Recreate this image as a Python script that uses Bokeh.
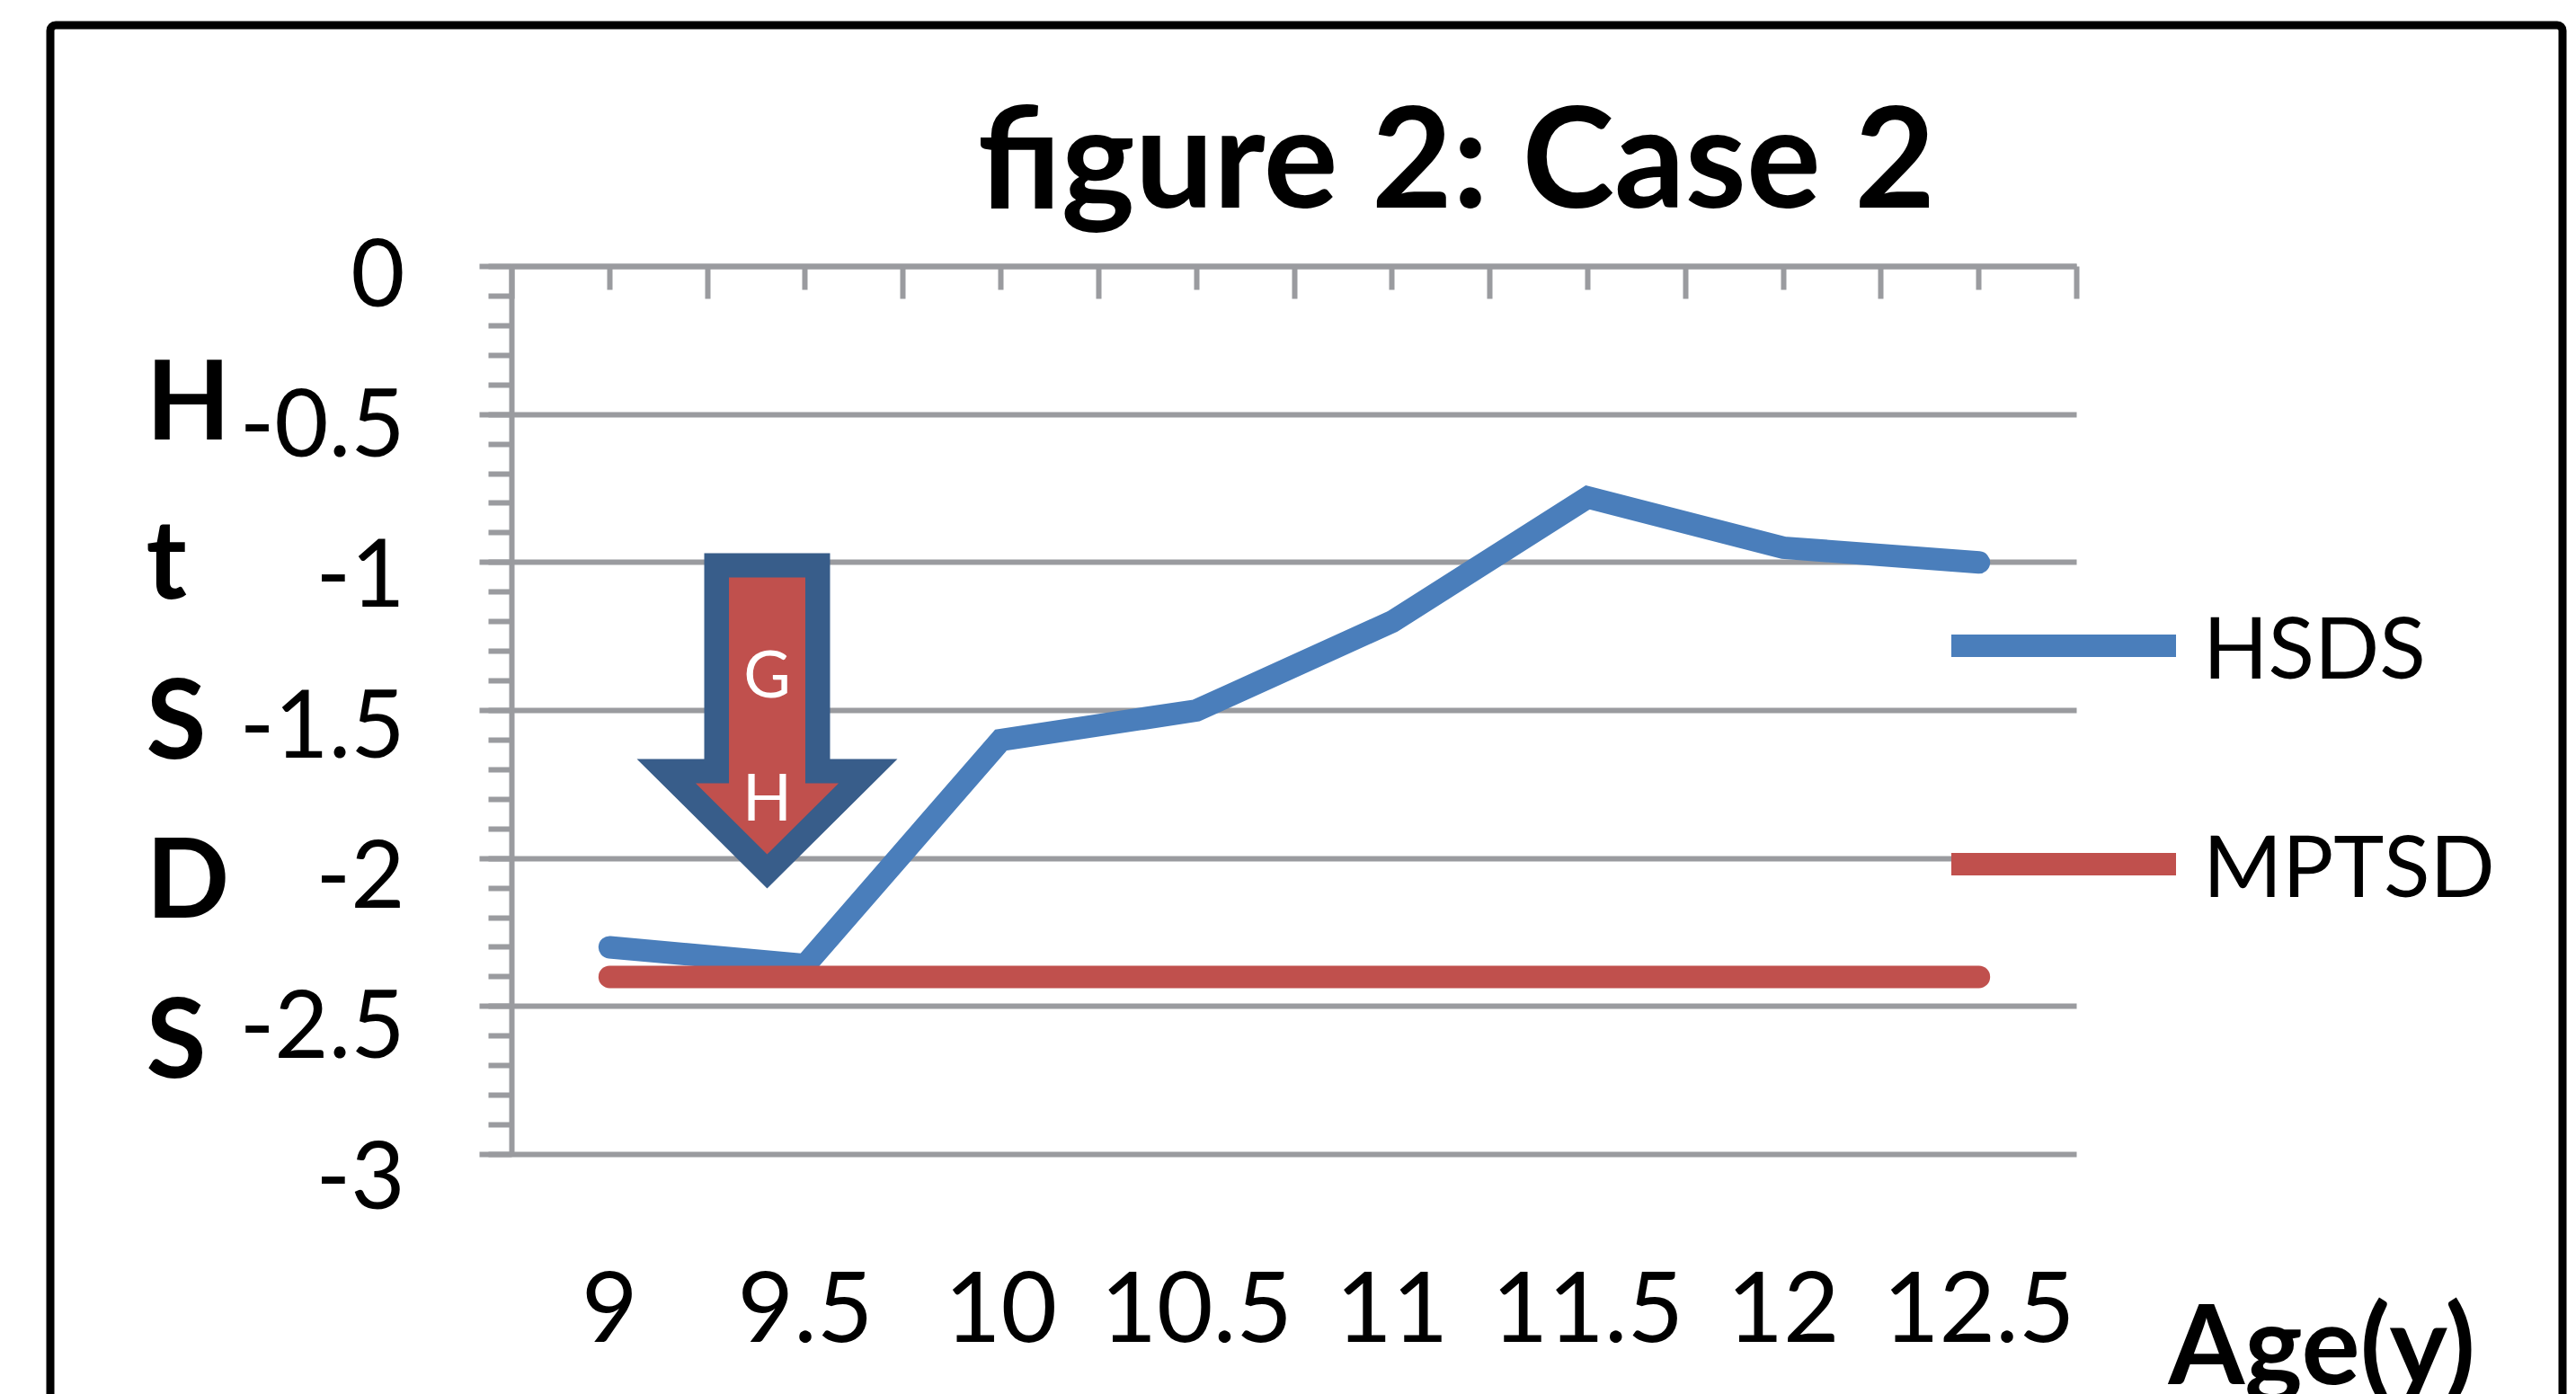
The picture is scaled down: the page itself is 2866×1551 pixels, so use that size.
from bokeh.plotting import figure
from bokeh.models import (Range1d, LinearAxis, FixedTicker, SingleIntervalTicker, Grid,
                          CustomJSTickFormatter, Legend, LegendItem, Label, BoxAnnotation)
from bokeh.embed import file_html
from bokeh.resources import INLINE

# ---------------- data ----------------
ages = [9, 9.5, 10, 10.5, 11, 11.5, 12, 12.5]
age_labels = ["9", "9.5", "10", "10.5", "11", "11.5", "12", "12.5"]
hsds = [-2.3, -2.36, -1.6, -1.5, -1.2, -0.78, -0.95, -1.0]
mptsd = [-2.4, -2.4, -2.4, -2.4, -2.4, -2.4, -2.4, -2.4]
y_ticks = [0, -0.5, -1, -1.5, -2, -2.5, -3]
y_tick_labels = ["0", "-0.5", "-1", "-1.5", "-2", "-2.5", "-3"]
series_names = ["HSDS", "MPTSD"]
title_text = "figure 2: Case 2"
y_title = "HtSDS"
x_title = "Age(y)"

# ---------------- style / layout ----------------
BLUE = "#4a7ebb"
RED = "#c0504d"
GRAY = "#9a9b9f"
ARROW_EDGE = "#385d8a"
FONT = "Lato"

# canvas placement in the window (px)
CX0, CY0 = 0, 0
W, H = 2866, 1551
# plot area in window px
PL, PR, PT, PB = 569, 2310, 296, 1284
# y tick labels sit slightly lower / more spread than the ticks
LBL_TOP, LBL_K = 302, 334.7

half = (ages[1] - ages[0]) / 2
x_lo, x_hi = ages[0] - half, ages[-1] + half
y_lo, y_hi = min(y_ticks), max(y_ticks)
kx = (PR - PL) / (x_hi - x_lo)
ky = (PB - PT) / (y_hi - y_lo)
x_range = Range1d(x_lo - (PL - CX0) / kx, x_hi + (CX0 + W - PR) / kx)
y_range = Range1d(y_lo - (CY0 + H - PB) / ky, y_hi + (PT - CY0) / ky)
lbl_range = Range1d(-(CY0 + H - LBL_TOP) / LBL_K, (LBL_TOP - CY0) / LBL_K)


def sx(wx):
    return wx - CX0


def sy(wy):
    return CY0 + H - wy


p = figure(width=W, height=H, x_range=x_range, y_range=y_range,
           x_axis_location=None, y_axis_location=None,
           output_backend="svg", toolbar_location=None,
           min_border_left=0, min_border_right=0, min_border_top=0, min_border_bottom=0,
           background_fill_color="white", border_fill_color="white")
p.extra_y_ranges = {"lbl": lbl_range}
p.outline_line_color = None
for r in list(p.center):
    if isinstance(r, Grid):
        r.visible = False

# outer chart border (open at the bottom, which lies beyond the page)
p.add_layout(BoxAnnotation(left=sx(55.5), right=sx(2850.5), top=sy(27.5), bottom=sy(1700),
                           left_units="screen", right_units="screen",
                           top_units="screen", bottom_units="screen",
                           fill_color=None, fill_alpha=0,
                           line_color="black", line_alpha=1.0, line_width=9,
                           border_radius=6))

fmt_code = """
for (let i = 0; i < tvals.length; i++) {
  if (Math.abs(tvals[i] - tick) < 1e-6) { return tlabels[i]; }
}
return "";
"""

# y axis: line, ticks (its long inward ticks form the horizontal gridlines)
yt = SingleIntervalTicker(interval=0.5, num_minor_ticks=5)
ya = LinearAxis(ticker=yt, fixed_location=x_lo, bounds=(y_lo, y_hi), level="underlay",
                formatter=CustomJSTickFormatter(args=dict(tvals=[], tlabels=[]), code=fmt_code))
ya.axis_line_color = GRAY
ya.axis_line_width = 6
ya.major_tick_line_color = GRAY
ya.major_tick_line_width = 6
ya.major_tick_out = 36
ya.major_tick_in = PR - PL
ya.minor_tick_line_color = GRAY
ya.minor_tick_line_width = 6
ya.minor_tick_out = 26
ya.minor_tick_in = 0
ya.major_label_standoff = 0
ya.major_label_text_font_size = "0px"
p.add_layout(ya, "left")

# y tick labels
yl = LinearAxis(y_range_name="lbl", ticker=FixedTicker(ticks=y_ticks), fixed_location=x_lo,
                bounds=(y_lo, y_hi),
                formatter=CustomJSTickFormatter(args=dict(tvals=y_ticks, tlabels=y_tick_labels),
                                                code=fmt_code))
yl.axis_line_color = None
yl.major_tick_line_color = None
yl.minor_tick_line_color = None
yl.major_tick_in = 0
yl.major_tick_out = 0
yl.minor_tick_in = 0
yl.minor_tick_out = 0
yl.major_label_standoff = 119
yl.major_label_text_font = FONT
yl.major_label_text_font_size = "104px"
yl.major_label_text_color = "black"
p.add_layout(yl, "left")

# top category axis at y = 0: ticks only
bounds = [a - half for a in ages] + [ages[-1] + half]
xa = LinearAxis(ticker=FixedTicker(ticks=bounds, minor_ticks=ages),
                fixed_location=y_hi, bounds=(x_lo, x_hi), level="underlay",
                formatter=CustomJSTickFormatter(args=dict(tvals=[], tlabels=[]), code=fmt_code))
xa.axis_line_color = GRAY
xa.axis_line_width = 6
xa.major_tick_line_color = GRAY
xa.major_tick_line_width = 6
xa.major_tick_in = 36
xa.major_tick_out = 0
xa.minor_tick_line_color = GRAY
xa.minor_tick_line_width = 6
xa.minor_tick_in = 26
xa.minor_tick_out = 0
xa.major_label_standoff = 0
xa.major_label_text_font_size = "0px"
p.add_layout(xa, "above")

# bottom labels (category names) under the plot area
xb = LinearAxis(ticker=FixedTicker(ticks=ages), fixed_location=y_lo,
                formatter=CustomJSTickFormatter(args=dict(tvals=ages, tlabels=age_labels),
                                                code=fmt_code))
xb.axis_line_color = None
xb.major_tick_line_color = None
xb.minor_tick_line_color = None
xb.major_tick_in = 0
xb.major_tick_out = 0
xb.minor_tick_in = 0
xb.minor_tick_out = 0
xb.major_label_standoff = 130
xb.major_label_text_font = FONT
xb.major_label_text_font_size = "108px"
xb.major_label_text_color = "black"
p.add_layout(xb, "below")

# arrow annotation (G -> H), in data units
ax_c = 9.4025
outer_xs = [ax_c - 0.1608, ax_c + 0.1608, ax_c + 0.1608, ax_c + 0.3331, ax_c,
            ax_c - 0.3331, ax_c - 0.1608]
outer_ys = [-0.9686, -0.9686, -1.664, -1.664, -2.101, -1.664, -1.664]
inner_xs = [ax_c - 0.0976, ax_c + 0.0976, ax_c + 0.0976, ax_c + 0.1827, ax_c,
            ax_c - 0.1827, ax_c - 0.0976]
inner_ys = [-1.0506, -1.0506, -1.746, -1.746, -1.986, -1.746, -1.746]
p.patch(outer_xs, outer_ys, fill_color=ARROW_EDGE, line_color=None)
p.patch(inner_xs, inner_ys, fill_color=RED, line_color=None)
for txt, yy in (("G", -1.3695), ("H", -1.7855)):
    p.add_layout(Label(x=ax_c, y=yy, text=txt, text_align="center", text_baseline="middle",
                       text_color="white", text_font=FONT, text_font_size="72px"))

# series
r_h = p.line(ages, hsds, line_color=BLUE, line_width=25, line_cap="round", line_join="miter")
r_m = p.line(ages, mptsd, line_color=RED, line_width=25, line_cap="round", line_join="miter")

legend = Legend(items=[LegendItem(label=series_names[0], renderers=[r_h]),
                       LegendItem(label=series_names[1], renderers=[r_m])],
                location=(sx(2171), sy(1026)),
                glyph_width=250, glyph_height=130, label_height=130,
                label_standoff=30, spacing=113, padding=0, margin=0,
                label_text_font=FONT, label_text_font_size="95px",
                label_text_color="black",
                border_line_color=None, background_fill_alpha=0)
p.add_layout(legend, "center")

# titles
p.add_layout(Label(x=sx(1620), y=sy(170), x_units="screen", y_units="screen",
                   text=title_text, text_align="center", text_baseline="alphabetic",
                   text_font=FONT, text_font_style="bold", text_font_size="155px",
                   text_color="black"))
p.add_layout(Label(x=sx(162), y=sy(368), x_units="screen", y_units="screen",
                   text="\n".join(list(y_title)), text_align="left", text_baseline="top",
                   text_line_height=1.216,
                   text_font=FONT, text_font_style="bold", text_font_size="122px",
                   text_color="black"))
p.add_layout(Label(x=sx(2412), y=sy(1492), x_units="screen", y_units="screen",
                   text=x_title, text_align="left", text_baseline="alphabetic",
                   text_font=FONT, text_font_style="bold", text_font_size="122px",
                   text_color="black"))

open("out.html", "w").write(file_html(p, INLINE))
